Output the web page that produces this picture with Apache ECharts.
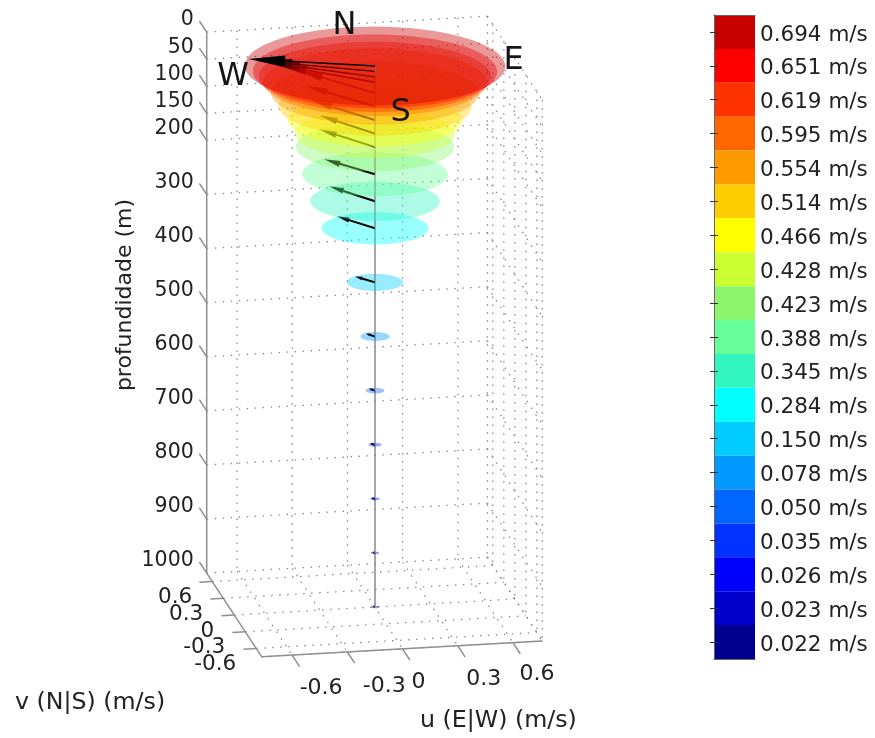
<!DOCTYPE html>
<html>
<head>
<meta charset="utf-8">
<style>html,body{margin:0;padding:0;background:#fff}#c{width:875px;height:738px}</style>
<script src="https://cdn.jsdelivr.net/npm/echarts@6/dist/echarts.min.js"></script>
</head>
<body>
<div id="c"></div>
<script>
// ---- data ----
var depths = [0,10,20,30,50,75,100,125,150,200,250,300,400,500,600,700,800,900,1000];
var speeds = [0.694,0.651,0.619,0.595,0.554,0.514,0.466,0.428,0.423,0.388,0.345,0.284,0.150,0.078,0.050,0.035,0.026,0.023,0.022];
var uComp  = [-0.641,-0.58,-0.51,-0.45,-0.32,-0.29,-0.26,-0.226,-0.231,-0.215,-0.189,-0.158,-0.084,-0.037,-0.025,-0.022,-0.016,-0.010,-0.008];
var vComp  = [0.246,0.30,0.35,0.39,0.46,0.425,0.39,0.365,0.366,0.309,0.304,0.245,0.123,0.06,0.04,0.025,0.018,0.02,0.02];
var bandColors = ['#c80000','#ff0000','#ff3300','#ff6600','#ff9900','#ffcc00','#ffff00','#ccff33','#8cf56e','#66ff99','#33f5c0','#00ffff','#00ccff','#0099ff','#0066ff','#0033ff','#0000ff','#0000cc','#000090'];
var depthTicks = [0,50,100,150,200,300,400,500,600,700,800,900,1000];
var uTicks = [-0.6,-0.3,0,0.3,0.6];
var vTicks = [0.6,0.3,0,-0.3,-0.6];
var compassNames = ['N','E','S','W'];
var compassU = [-0.015,0.75,-0.02,-0.775];
var compassV = [0.755,-0.015,-0.80,-0.016];

// ---- view: an oblique projection of (u, v, depth) on the page plane ----
var VIEW = {x0:375, y0:66, ux:184, uy:-10.47, vx:-36.7, vy:-55.8, dy:0.541,
            uMin:-0.765, uMax:0.76, vMin:-0.75, vMax:0.75, dMin:0, dMax:1000};
function project(u, v, d) {
  return [VIEW.x0 + VIEW.ux*u + VIEW.vx*v, VIEW.y0 + VIEW.uy*u + VIEW.vy*v + VIEW.dy*d];
}
var FONT = '"DejaVu Sans", Verdana, sans-serif';
var uLabelShift = [[29,33],[37,34],[16,33],[26,34],[24,32]];

function seg(api, a, b, style) {
  var p = api.coord(a), q = api.coord(b);
  return {type:'line', shape:{x1:p[0],y1:p[1],x2:q[0],y2:q[1]}, style:style, silent:true};
}
function txt(api, a, dx, dy, text, size, align, color, rot) {
  var p = api.coord(a);
  return {type:'text', x:p[0]+dx, y:p[1]+dy, rotation:rot||0, silent:true,
    style:{text:text, fill:color||'#222', font:size+'px '+FONT, align:align, verticalAlign:'middle'}};
}

// frame, grid and axis text
function renderFrame(params, api) {
  var V = VIEW, ch = [];
  var dot = {stroke:'#8c8c8c', lineWidth:1.3, lineDash:[1.5,6.5], fill:null};
  var solid = {stroke:'#8f8f8f', lineWidth:1.5, fill:null};
  depthTicks.forEach(function (d) {
    ch.push(seg(api, project(V.uMin,V.vMax,d), project(V.uMax,V.vMax,d), dot));
    ch.push(seg(api, project(V.uMax,V.vMax,d), project(V.uMax,V.vMin,d), dot));
    ch.push(seg(api, project(V.uMin,V.vMax,d), project(V.uMin,V.vMax+0.2,d), solid));
    ch.push(txt(api, project(V.uMin,V.vMax,d), -13, -12, String(d), 20.5, 'right'));
  });
  uTicks.concat([V.uMax]).forEach(function (u) {
    ch.push(seg(api, project(u,V.vMax,V.dMin), project(u,V.vMax,V.dMax), dot));
    ch.push(seg(api, project(u,V.vMax,V.dMax), project(u,V.vMin,V.dMax), dot));
  });
  vTicks.concat([V.vMin]).forEach(function (v) {
    ch.push(seg(api, project(V.uMax,v,V.dMin), project(V.uMax,v,V.dMax), dot));
    ch.push(seg(api, project(V.uMin,v,V.dMax), project(V.uMax,v,V.dMax), dot));
  });
  ch.push(seg(api, project(V.uMin,V.vMax,V.dMin), project(V.uMin,V.vMax,V.dMax), solid));
  ch.push(seg(api, project(V.uMin,V.vMax,V.dMax), project(V.uMin,V.vMin,V.dMax), solid));
  ch.push(seg(api, project(V.uMin,V.vMin,V.dMax), project(V.uMax,V.vMin,V.dMax), solid));
  uTicks.forEach(function (u, i) {
    ch.push(seg(api, project(u,V.vMin,V.dMax), project(u,V.vMin-0.2,V.dMax), solid));
    var s = uLabelShift[i];
    ch.push(txt(api, project(u,V.vMin,V.dMax), s[0], s[1], String(u), 22, 'center'));
  });
  vTicks.forEach(function (v) {
    var a = project(V.uMin,v,V.dMax);
    ch.push(seg(api, a, project(V.uMin-0.07,v,V.dMax), solid));
    ch.push(txt(api, a, -20, 16, String(v), 21.5, 'right'));
  });
  return {type:'group', children:ch};
}

// one depth level, painted deep to shallow: stem piece, translucent disc, arrow
function renderLevel(params, api) {
  var d = api.value(0), sp = api.value(1), u = api.value(2), v = api.value(3);
  var i = params.dataIndex, ch = [];
  var k = depths.length - 1 - i;
  if (k < depths.length - 1) {
    ch.push(seg(api, project(0,0,d), project(0,0,depths[k+1]), {stroke:'#8a8a8a', lineWidth:1.5, fill:null}));
  }
  var pts = [];
  for (var t = 0; t < 96; t++) {
    var a = t/96*2*Math.PI;
    pts.push(api.coord(project(sp*Math.cos(a), sp*Math.sin(a), d)));
  }
  ch.push({type:'polygon', shape:{points:pts}, silent:true, style:{fill:bandColors[k], opacity:0.4}});
  var s = api.coord(project(0,0,d)), e = api.coord(project(u,v,d));
  var dx = e[0]-s[0], dy = e[1]-s[1], L = Math.sqrt(dx*dx+dy*dy) || 1;
  var h = 0.28*L + 1.5, w = 0.12*h + 1, nx = -dy/L, ny = dx/L, bx = e[0]-dx/L*h, by = e[1]-dy/L*h;
  ch.push({type:'line', shape:{x1:s[0],y1:s[1],x2:bx,y2:by}, silent:true, style:{stroke:'#000', lineWidth:k<5?1.4:2, fill:null}});
  ch.push({type:'polygon', shape:{points:[[e[0],e[1]],[bx+nx*w,by+ny*w],[bx-nx*w,by-ny*w]]}, silent:true, style:{fill:'#000'}});
  return {type:'group', children:ch};
}

function renderText(params, api) {
  var ch = compassNames.map(function (n, i) {
    return txt(api, project(compassU[i], compassV[i], 0), 0, 2, n, 32, 'center', '#151515');
  });
  return {type:'group', children:ch};
}

var levelRows = depths.map(function (d, i) { return [d, speeds[i], uComp[i], vComp[i]]; }).reverse();
var bandLabels = speeds.map(function (s) { return s.toFixed(3) + ' m/s'; });
var barData = bandColors.map(function (c) { return {value:1, itemStyle:{color:c}}; });

var chart = echarts.init(document.getElementById('c'), null, {renderer:'canvas'});
chart.setOption({
  animation:false,
  backgroundColor:'#fff',
  grid:[
    {left:0, top:0, width:875, height:738},
    {left:714, top:15, width:41, height:644}
  ],
  xAxis:[
    {gridIndex:0, type:'value', min:0, max:875, show:false},
    {gridIndex:1, type:'value', min:0, max:1, position:'top', z:5, axisLine:{show:true,lineStyle:{color:'#666'}}, axisTick:{show:false}, axisLabel:{show:false}, splitLine:{show:false}},
    {gridIndex:1, type:'value', min:0, max:1, position:'bottom', z:5, axisLine:{show:true,lineStyle:{color:'#666'}}, axisTick:{show:false}, axisLabel:{show:false}, splitLine:{show:false}}
  ],
  yAxis:[
    {gridIndex:0, type:'value', min:0, max:738, inverse:true, show:false},
    {gridIndex:1, type:'category', inverse:true, position:'right', data:bandLabels, z:5,
      axisLine:{show:true,lineStyle:{color:'#666'}},
      axisTick:{show:true,inside:true,length:4,alignWithLabel:true,lineStyle:{color:'#333'}},
      axisLabel:{show:true,interval:0,margin:5,fontSize:21.5,fontFamily:FONT,color:'#222',verticalAlign:'top',lineHeight:6}},
    {gridIndex:1, type:'category', inverse:true, position:'left', data:bandLabels, z:5,
      axisLine:{show:true,lineStyle:{color:'#666'}},
      axisTick:{show:true,inside:true,length:4,alignWithLabel:true,lineStyle:{color:'#333'}},
      axisLabel:{show:false}}
  ],
  graphic:[
    {type:'text', x:125, y:295, rotation:Math.PI/2, silent:true, style:{text:'profundidade (m)', font:'22px '+FONT, fill:'#222', align:'center', verticalAlign:'middle'}},
    {type:'text', x:15, y:703, silent:true, style:{text:'v (N|S) (m/s)', font:'23.7px '+FONT, fill:'#222', align:'left', verticalAlign:'middle'}},
    {type:'text', x:420, y:721, silent:true, style:{text:'u (E|W) (m/s)', font:'23.7px '+FONT, fill:'#222', align:'left', verticalAlign:'middle'}}
  ],
  series:[
    {type:'custom', xAxisIndex:0, yAxisIndex:0, coordinateSystem:'cartesian2d', data:[[0]], renderItem:renderFrame, encode:{x:[],y:[]}, clip:false, z:1, silent:true},
    {type:'custom', xAxisIndex:0, yAxisIndex:0, coordinateSystem:'cartesian2d', data:levelRows, renderItem:renderLevel, encode:{x:[],y:[]}, clip:false, z:2, silent:true},
    {type:'custom', xAxisIndex:0, yAxisIndex:0, coordinateSystem:'cartesian2d', data:[[0]], renderItem:renderText, encode:{x:[],y:[]}, clip:false, z:3, silent:true},
    {type:'bar', xAxisIndex:1, yAxisIndex:1, data:barData, barWidth:'100%', barCategoryGap:'0%', silent:true, z:2}
  ]
});
</script>
</body>
</html>
